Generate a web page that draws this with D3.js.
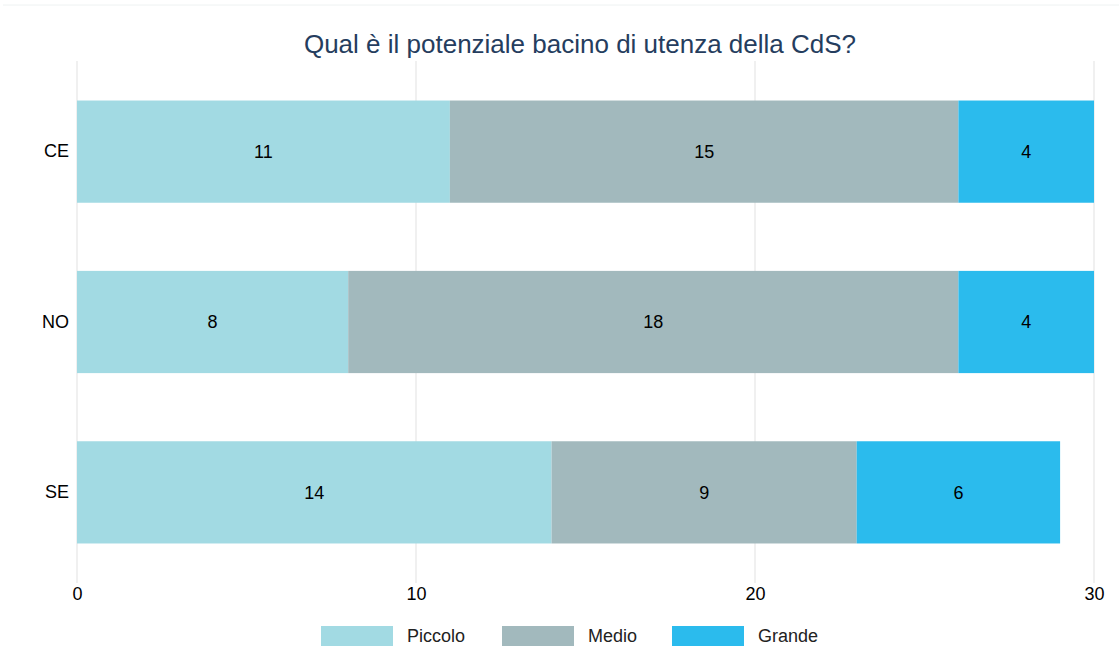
<!DOCTYPE html>
<html>
<head>
<meta charset="utf-8">
<script src="https://cdn.jsdelivr.net/npm/d3@7"></script>
<style>
  body { margin: 0; background: #fff; }
  text { font-family: "Liberation Sans", Arial, sans-serif; }
</style>
</head>
<body>
<svg width="1119" height="649"></svg>
<script>
var categories = ["CE", "NO", "SE"];
var seriesNames = ["Piccolo", "Medio", "Grande"];
var piccolo = [11, 8, 14];
var medio = [15, 18, 9];
var grande = [4, 4, 6];
var xTicks = [0, 10, 20, 30];
var colors = ["#a2dae3", "#a2b9bd", "#2bbbed"];

var svg = d3.select("svg");
var width = +svg.attr("width"), height = +svg.attr("height");

var rows = categories.map(function(c, i) {
    return { cat: c, Piccolo: piccolo[i], Medio: medio[i], Grande: grande[i] };
});

var x = d3.scaleLinear().domain([0, 30]).range([77, 1094]);
var y = d3.scaleBand().domain(categories).range([61, 583])
    .paddingInner(0.4).paddingOuter(0.232);

// top border
svg.append("line")
    .attr("x1", 3).attr("x2", width).attr("y1", 5).attr("y2", 5)
    .attr("stroke", "#eef2f2").attr("stroke-width", 1);

// grid
svg.append("g").selectAll("line")
    .data(xTicks)
  .enter().append("line")
    .attr("x1", function(d) { return x(d); })
    .attr("x2", function(d) { return x(d); })
    .attr("y1", 61).attr("y2", 583)
    .attr("stroke", "#e1e1e1").attr("stroke-width", 1);

var stack = d3.stack().keys(seriesNames)(rows);

var layers = svg.append("g").selectAll("g")
    .data(stack)
  .enter().append("g")
    .attr("fill", function(d, i) { return colors[i]; });

layers.selectAll("rect")
    .data(function(d) { return d; })
  .enter().append("rect")
    .attr("x", function(d) { return x(d[0]); })
    .attr("y", function(d) { return y(d.data.cat); })
    .attr("width", function(d) { return x(d[1]) - x(d[0]); })
    .attr("height", y.bandwidth());

layers.selectAll("text")
    .data(function(d) { return d; })
  .enter().append("text")
    .attr("x", function(d) { return (x(d[0]) + x(d[1])) / 2; })
    .attr("y", function(d) { return y(d.data.cat) + y.bandwidth() / 2; })
    .attr("dy", "0.35em")
    .attr("text-anchor", "middle")
    .attr("fill", "#000")
    .style("font-size", "18px")
    .text(function(d) { return d[1] - d[0]; });

// x axis labels
var xAxis = svg.append("g")
    .attr("transform", "translate(0,583)")
    .call(d3.axisBottom(x).tickValues(xTicks).tickSize(0).tickPadding(4));
xAxis.select(".domain").remove();
xAxis.selectAll("text").style("font-size", "18px").attr("fill", "#000")
    .style("font-family", "'Liberation Sans', Arial, sans-serif");

// y axis labels
var yAxis = svg.append("g")
    .attr("transform", "translate(77,0)")
    .call(d3.axisLeft(y).tickSize(0).tickPadding(8));
yAxis.select(".domain").remove();
yAxis.selectAll("text").style("font-size", "18px").attr("fill", "#000")
    .style("font-family", "'Liberation Sans', Arial, sans-serif");

// title
svg.append("text")
    .attr("x", 580).attr("y", 53)
    .attr("text-anchor", "middle")
    .attr("fill", "#253d5e")
    .style("font-size", "26px")
    .text("Qual è il potenziale bacino di utenza della CdS?");

// legend
var legendX = [321, 502, 672];
var legend = svg.append("g").selectAll("g")
    .data(seriesNames)
  .enter().append("g")
    .attr("transform", function(d, i) { return "translate(" + legendX[i] + ",626)"; });
legend.append("rect")
    .attr("width", 72).attr("height", 20)
    .attr("fill", function(d, i) { return colors[i]; });
legend.append("text")
    .attr("x", 86).attr("y", 10).attr("dy", "0.35em")
    .attr("fill", "#222")
    .style("font-size", "18px")
    .text(function(d) { return d; });
</script>
</body>
</html>
